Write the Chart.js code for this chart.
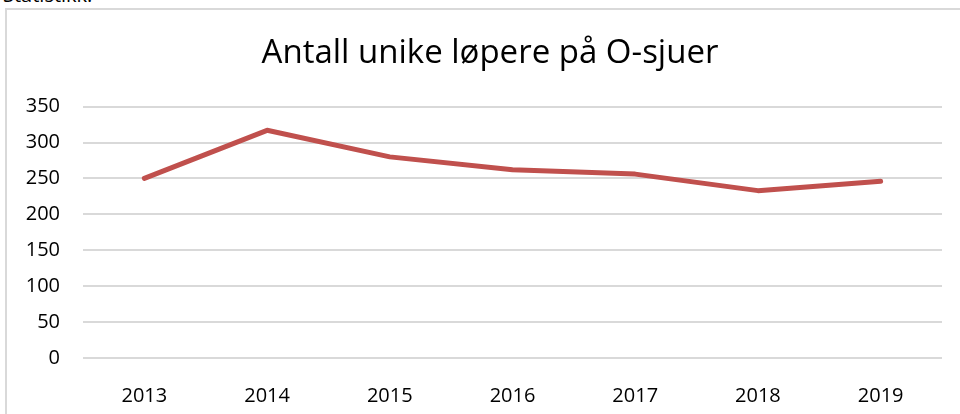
<!DOCTYPE html>
<html>
<head>
<meta charset="utf-8">
<script src="https://cdn.jsdelivr.net/npm/chart.js@4"></script>
<style>
  html, body { margin: 0; padding: 0; background: #fff; overflow: hidden; }
  #wrap { position: relative; width: 960px; height: 414px; }
  #frame { position: absolute; left: 5px; top: 8px; width: 1000px; height: 500px; border: 2px solid #d9d9d9; }
  #caption { position: absolute; left: 3px; top: -19px; font: 20px "Open Sans", sans-serif; color: #000; }
  canvas { position: absolute; left: 0; top: 0; }
</style>
</head>
<body>
<div id="wrap">
  <div id="caption">Statistikk:</div>
  <div id="frame"></div>
  <canvas id="chart" width="960" height="414"></canvas>
</div>
<script>
// Antall unike løpere per år
const years = ['2013', '2014', '2015', '2016', '2017', '2018', '2019'];
const runners = [250, 317, 280, 262, 256, 233, 246];
const yTicks = [0, 50, 100, 150, 200, 250, 300, 350];

// shift the title box so the heading sits centred like the original
const titleShift = {
  id: 'titleShift',
  afterLayout(chart) {
    if (chart.titleBlock) chart.titleBlock.left = 38;
  }
};

const ctx = document.getElementById('chart').getContext('2d');
new Chart(ctx, {
  type: 'line',
  data: {
    labels: years,
    datasets: [{
      label: 'Unike løpere',
      data: runners,
      borderColor: '#c0504d',
      borderWidth: 5,
      borderCapStyle: 'round',
      borderJoinStyle: 'round',
      pointRadius: 0,
      tension: 0
    }]
  },
  options: {
    responsive: false,
    animation: false,
    layout: { padding: { left: 0, right: 18, top: 0, bottom: 0 } },
    plugins: {
      legend: { display: false },
      tooltip: { enabled: false },
      title: {
        display: true,
        text: 'Antall unike løpere på O-sjuer',
        color: '#000',
        font: { family: '"Open Sans"', size: 33, weight: 'normal', lineHeight: 1.2 },
        padding: { top: 34, bottom: 33 }
      }
    },
    scales: {
      x: {
        offset: true,
        grid: { display: false },
        border: { display: false },
        ticks: { color: '#000', padding: 18, font: { family: '"Open Sans"', size: 20 } },
        afterFit: scale => { scale.height = 56; }
      },
      y: {
        min: 0,
        max: 350,
        afterBuildTicks: scale => { scale.ticks = yTicks.map(v => ({ value: v })); },
        grid: { color: '#d9d9d9', lineWidth: 2, drawTicks: false },
        border: { display: false },
        ticks: { color: '#000', padding: 23, font: { family: '"Open Sans"', size: 20 } },
        afterFit: scale => { scale.width = 83; }
      }
    }
  },
  plugins: [titleShift]
});
</script>
</body>
</html>
